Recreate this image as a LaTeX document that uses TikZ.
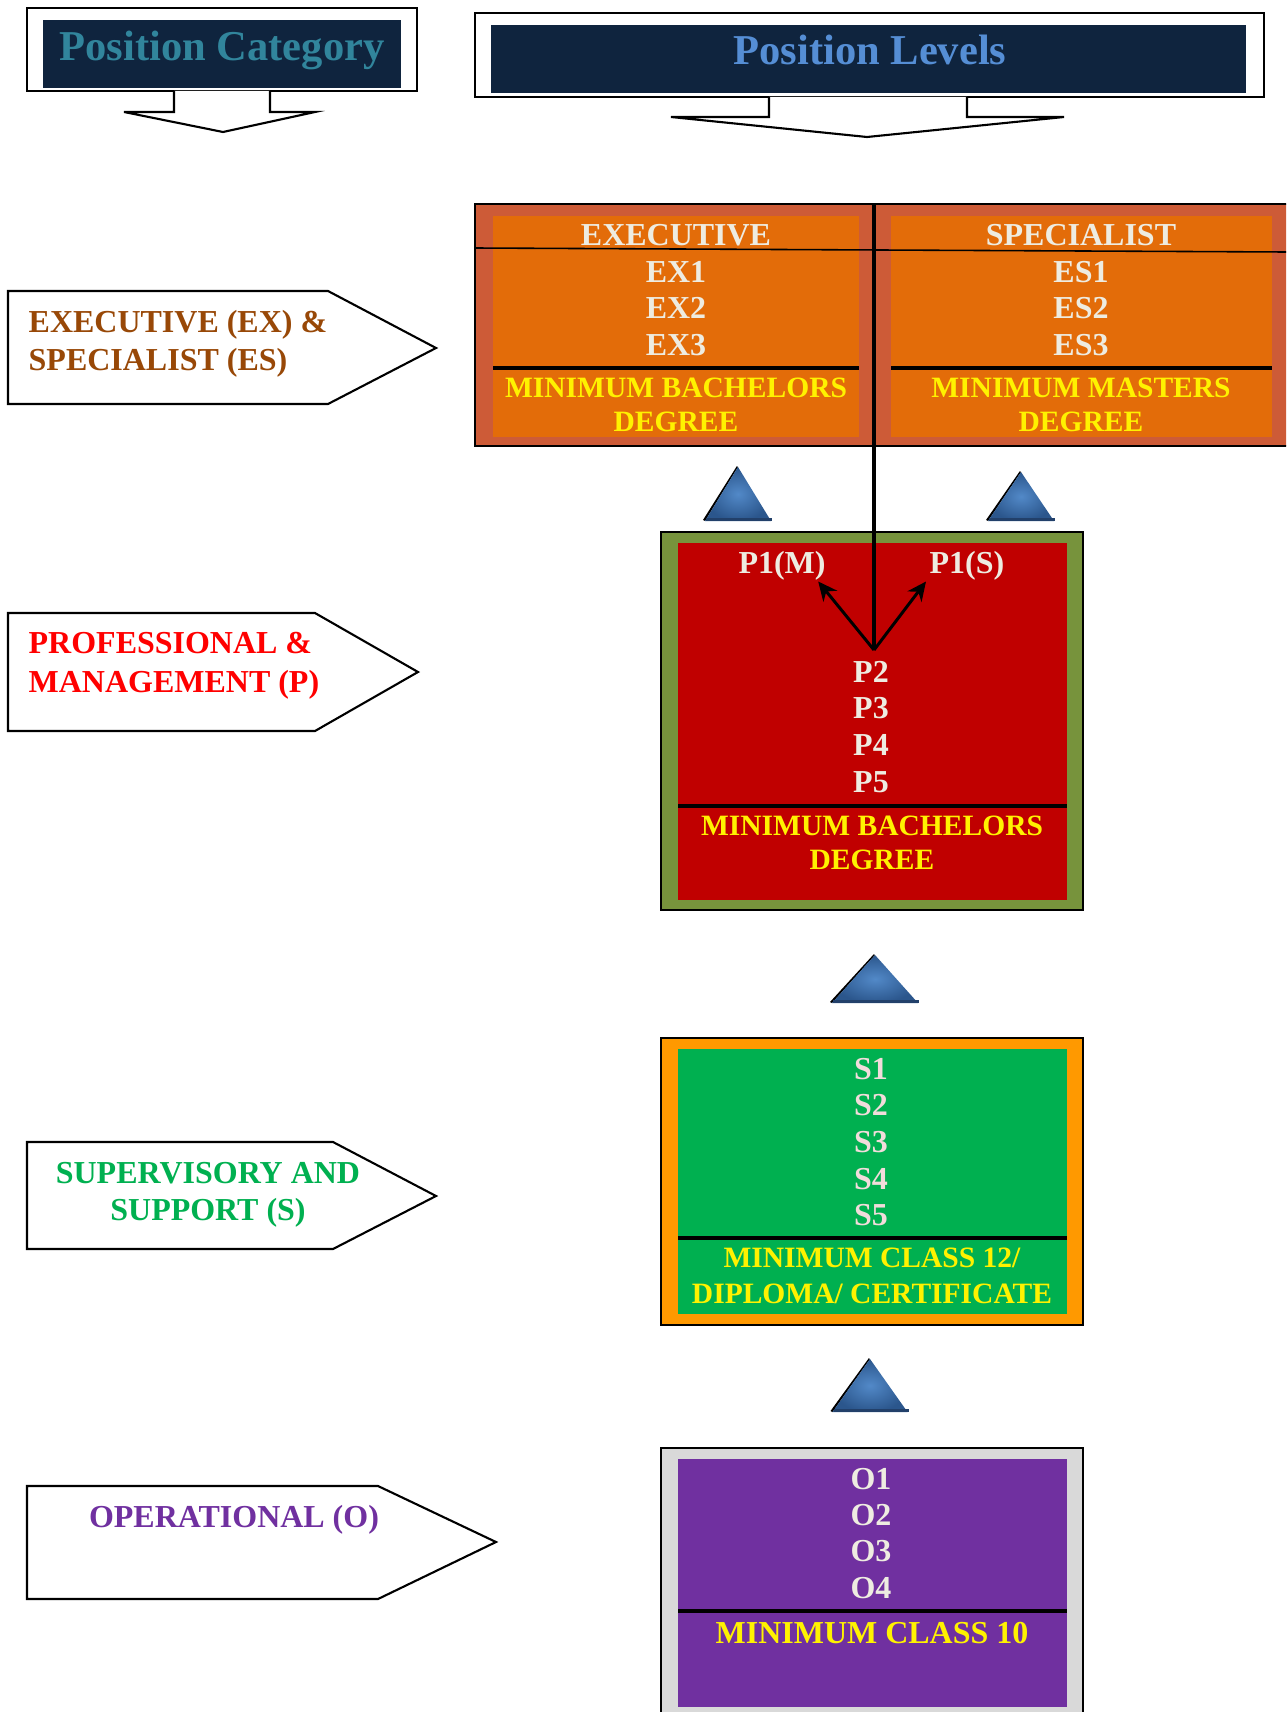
\documentclass[tikz,border=0pt]{standalone}
\usepackage{fontspec}
\setmainfont{Liberation Serif}
\usetikzlibrary{arrows.meta}
\definecolor{hdrnavy}{HTML}{0F243E}
\definecolor{pcteal}{HTML}{31859C}
\definecolor{plblue}{HTML}{558ED5}
\definecolor{exbrown}{HTML}{984807}
\definecolor{pmred}{HTML}{FF0000}
\definecolor{supgreen}{HTML}{00B050}
\definecolor{oppurple}{HTML}{7030A0}
\definecolor{exouter}{HTML}{CD5B37}
\definecolor{exinner}{HTML}{E36C09}
\definecolor{pouter}{HTML}{77933C}
\definecolor{pinner}{HTML}{C00000}
\definecolor{souter}{HTML}{FF9900}
\definecolor{sinner}{HTML}{00B050}
\definecolor{oouter}{HTML}{D9D9D9}
\definecolor{oinner}{HTML}{7030A0}
\definecolor{lvltext}{HTML}{EEECE1}
\definecolor{lvlpink}{HTML}{F2DCDB}
\definecolor{pyrlight}{HTML}{5289C8}
\definecolor{pyrdark}{HTML}{2B568C}
\definecolor{pyrbase}{HTML}{22406A}
\tikzset{
  frame/.style        = {draw=black, line width=0.6pt},
  hdrtext/.style      = {font=\fontsize{12.1}{14}\selectfont\bfseries,
                         inner sep=0pt, anchor=base},
  tag/.style          = {frame, fill=white},
  tagtext/.style      = {font=\fontsize{9.1}{11}\selectfont\bfseries,
                         inner sep=0pt, anchor=base west},
  tagmid/.style       = {tagtext, anchor=base},
  lvl/.style          = {font=\fontsize{9.1}{11}\selectfont\bfseries,
                         text=lvltext, inner sep=0pt, anchor=base},
  req/.style          = {lvl, text=yellow, font=\fontsize{8.4}{10}\selectfont\bfseries},
  sep/.style          = {draw=black, line width=1.2pt},
  divider/.style      = {draw=black, line width=1.15pt},
  branch/.style       = {-{Stealth[length=5.4pt,width=5pt]}, draw=black,
                         line width=0.85pt},
  pics/pyramid/.style args = {#1/#2}{code={
    \fill[black] (-#1-0.02,-#2+0.01) -- (-0.012,0.008) -- (0,0) -- (-#1,-#2) -- cycle;
    \shade[inner color=pyrlight, outer color=pyrdark]
      (-#1,-#2) -- (0,0) -- (#1,-#2) -- cycle;
    \fill[pyrbase] (-#1+0.012,-#2) rectangle (#1+0.012,-#2+0.035);
  }},
}

\begin{document}
\begin{tikzpicture}

  \useasboundingbox (0,0) rectangle (12.86,-17.12);
  \clip (0,0) rectangle (12.86,-17.12);

  % headers with their down arrows
  \draw[frame, fill=white] (0.27,-0.08) rectangle (4.17,-0.91);
  \fill[hdrnavy] (0.43,-0.20) rectangle (4.01,-0.88);
  \node[hdrtext, text=pcteal] (pcat) at (2.22,-0.61) {Position Category};
  \draw[frame, fill=white] (1.74,-0.91) -- (1.74,-1.12) -- (1.24,-1.12) --
      (2.23,-1.32) -- (3.15,-1.12) -- (2.70,-1.12) -- (2.70,-0.91);

  \draw[frame, fill=white] (4.75,-0.13) rectangle (12.64,-0.97);
  \fill[hdrnavy] (4.91,-0.25) rectangle (12.46,-0.93);
  \node[hdrtext, text=plblue] (plev) at (8.70,-0.65) {Position Levels};
  \draw[frame, fill=white] (7.69,-0.97) -- (7.69,-1.17) -- (6.71,-1.17) --
      (8.67,-1.37) -- (10.64,-1.17) -- (9.67,-1.17) -- (9.67,-0.97);

  % category tags on the left
  \draw[tag] (0.08,-2.91) -- (3.28,-2.91) -- (4.36,-3.48) -- (3.28,-4.04) --
      (0.08,-4.04) -- cycle;
  \node[tagtext, text=exbrown] (tagex) at (0.28,-3.32) {EXECUTIVE (EX) \&};
  \node[tagtext, text=exbrown] (tages) at (0.28,-3.70) {SPECIALIST (ES)};

  \draw[tag] (0.08,-6.13) -- (3.15,-6.13) -- (4.18,-6.72) -- (3.15,-7.31) --
      (0.08,-7.31) -- cycle;
  \node[tagtext, text=pmred] (tagpm) at (0.28,-6.53) {PROFESSIONAL \&};
  \node[tagtext, text=pmred] (tagmg) at (0.28,-6.92) {MANAGEMENT (P)};

  \draw[tag] (0.27,-11.42) -- (3.33,-11.42) -- (4.36,-11.96) -- (3.33,-12.49) --
      (0.27,-12.49) -- cycle;
  \node[tagmid, text=supgreen] (tagsup) at (2.08,-11.83) {SUPERVISORY AND};
  \node[tagmid, text=supgreen] (tagspt) at (2.08,-12.20) {SUPPORT (S)};

  \draw[tag] (0.27,-14.86) -- (3.78,-14.86) -- (4.96,-15.42) -- (3.78,-15.99) --
      (0.27,-15.99) -- cycle;
  \node[tagmid, text=oppurple] (tagop) at (2.34,-15.27) {OPERATIONAL (O)};

  % executive / specialist box
  \draw[frame, fill=exouter] (4.75,-2.04) rectangle (13.00,-4.46);
  \fill[exinner] (4.93,-2.16) rectangle (8.59,-4.37);
  \fill[exinner] (8.91,-2.16) rectangle (12.72,-4.37);
  \draw[line width=0.45pt] (4.75,-2.48) -- (12.86,-2.52);
  \draw[sep] (4.93,-3.68) -- (8.59,-3.68);
  \draw[sep] (8.91,-3.68) -- (12.72,-3.68);
  \node[lvl] (exec) at (6.76,-2.45) {EXECUTIVE};
  \node[lvl] (spec) at (10.81,-2.45) {SPECIALIST};
  \foreach \i in {1,2,3} {
    \node[lvl] (ex\i) at (6.76,{-2.82-0.367*(\i-1)}) {EX\i};
    \node[lvl] (es\i) at (10.81,{-2.82-0.367*(\i-1)}) {ES\i};
  }
  \node[req] (exreq1) at (6.76,-3.97) {MINIMUM BACHELORS};
  \node[req] (exreq2) at (6.76,-4.31) {DEGREE};
  \node[req] (esreq1) at (10.81,-3.97) {MINIMUM MASTERS};
  \node[req] (esreq2) at (10.81,-4.31) {DEGREE};

  % professional box
  \draw[frame, fill=pouter] (6.61,-5.32) rectangle (10.83,-9.10);
  \fill[pinner] (6.78,-5.43) rectangle (10.67,-9.00);
  \draw[sep] (6.78,-8.06) -- (10.67,-8.06);
  \node[lvl] (p1m) at (7.82,-5.73) {P1(M)};
  \node[lvl] (p1s) at (9.67,-5.73) {P1(S)};
  \foreach \lv [count=\i] in {P2,P3,P4,P5}
    \node[lvl] (lv-\lv) at (8.71,{-6.82-0.369*(\i-1)}) {\lv};
  \node[req] (preq1) at (8.72,-8.35) {MINIMUM BACHELORS};
  \node[req] (preq2) at (8.72,-8.69) {DEGREE};

  % supervisory box
  \draw[frame, fill=souter] (6.61,-10.38) rectangle (10.83,-13.25);
  \fill[sinner] (6.78,-10.49) rectangle (10.67,-13.14);
  \draw[sep] (6.78,-12.38) -- (10.67,-12.38);
  \foreach \lv [count=\i] in {S1,S2,S3,S4,S5}
    \node[lvl, text=lvlpink] (lv-\lv) at (8.71,{-10.79-0.367*(\i-1)}) {\lv};
  \node[req] (sreq1) at (8.72,-12.67) {MINIMUM CLASS 12/};
  \node[req] (sreq2) at (8.72,-13.03) {DIPLOMA/ CERTIFICATE};

  % operational box
  \draw[frame, fill=oouter] (6.61,-14.48) rectangle (10.83,-17.30);
  \fill[oinner] (6.78,-14.59) rectangle (10.67,-17.07);
  \draw[sep] (6.78,-16.11) -- (10.67,-16.11);
  \foreach \lv [count=\i] in {O1,O2,O3,O4}
    \node[lvl] (lv-\lv) at (8.71,{-14.89-0.364*(\i-1)}) {\lv};
  \node[req, font=\fontsize{9.1}{11}\selectfont\bfseries] (oreq) at (8.72,-16.43)
      {MINIMUM CLASS 10};

  % divider and the split into P1(M) / P1(S)
  \coordinate (divtop) at (8.74,-2.04);
  \coordinate (split)  at (8.74,-6.50);
  \draw[divider] (divtop) -- (split);
  \draw[branch] (split) -- ([xshift=-0.08cm,yshift=-0.01cm]p1m.south east);
  \draw[branch] (split) -- ([xshift=-0.03cm,yshift=-0.01cm]p1s.south west);

  % upward pyramids
  \pic at (7.38,-4.67)  {pyramid=0.33/0.54};
  \pic at (10.21,-4.72) {pyramid=0.33/0.49};
  \pic at (8.75,-9.55)  {pyramid=0.43/0.48};
  \pic at (8.70,-13.59) {pyramid=0.375/0.53};

\end{tikzpicture}
\end{document}
